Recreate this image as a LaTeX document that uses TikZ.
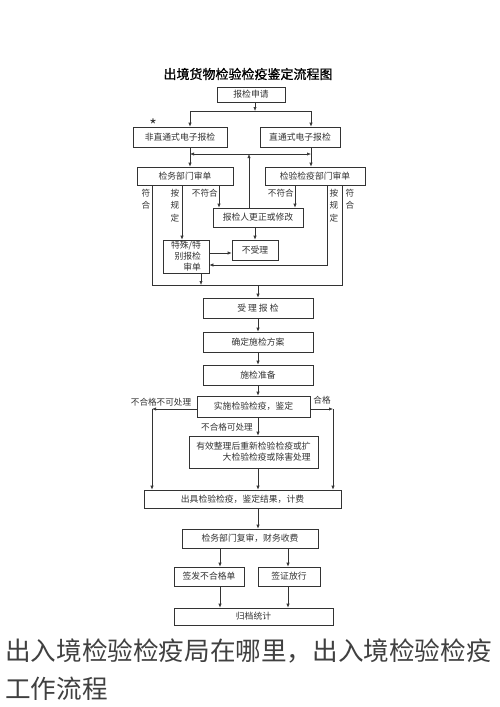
\documentclass[tikz,border=0pt]{standalone}
\usepackage{fontspec}
\setmainfont{Noto Sans CJK SC}
\newfontfamily\titlefont[FakeBold=1]{Noto Sans CJK SC}
\usetikzlibrary{arrows.meta}

\begin{document}
\begin{tikzpicture}[x=1pt,y=-1pt,line width=0.6pt,color=black!80,
	box/.style={draw, fill=white, inner sep=0pt, font=\fontsize{8.8}{11}\selectfont},
	lbl/.style={inner sep=0pt, align=center, font=\fontsize{8.6}{12.4}\selectfont},
	arr/.style={-{Latex[length=4pt,width=3.2pt]}}]
	\fill[white] (0,0) rectangle (500,707);
	\useasboundingbox (0,0) rectangle (500,707);
	\node[text=black] (title) at (248,74) {\titlefont\fontsize{13}{15}\selectfont 出境货物检验检疫鉴定流程图};
	\foreach
	\nm/\cx/\cy/\w/\h/\txt
	in
	{
		apply/251/94.5/68/15/报检申请,
		nondirect/180/137/94/20/非直通式电子报检,
		direct/300/137/80/20/直通式电子报检,
		deptL/185/176/96/18/检务部门审单,
		deptR/315/176/100/18/检验检疫部门审单,
		amend/258/217.5/90/19/报检人更正或修改,
		reject/255/250/46/20/不受理,
		accept/258/308/110/20/受 理 报 检,
		plan/258/342/110/20/确定施检方案,
		prep/258/375/110/20/施检准备,
		inspect/253.5/406.5/113/21/实施检验检疫，鉴定,
		result/242.5/499/197/18/出具检验检疫，鉴定结果，计费,
		review/250/538.5/136/19/检务部门复审，财务收费,
		unq/209/576.5/70/19/签发不合格单,
		release/289/576.5/62/19/签证放行,
		archive/253.5/616.5/159/17/归档统计
	}
	{
		\node[box, minimum width=\w, minimum height=\h] (\nm) at (\cx,\cy) {\txt};
	}
	\node[box, minimum width=46, minimum height=33, align=right] (special) at (186,256.5) {特殊/特\\别报检\\审单};
	\node[box, minimum width=129, minimum height=32, align=right] (treat) at (253.5,452) {有效整理后重新检验检疫或扩\\大检验检疫或除害处理};
	\node[inner sep=0pt, font=\fontsize{16}{16}\selectfont] (star) at (153,125) {*};
	\node[lbl] (okL) at (146,199) {符\\合};
	\node[lbl] (ruleL) at (175,205.5) {按\\规\\定};
	\node[lbl, anchor=east] (failL) at (218,193) {不符合};
	\node[lbl, anchor=east] (failR) at (294,193) {不符合};
	\node[lbl] (ruleR) at (334,205.5) {按\\规\\定};
	\node[lbl] (okR) at (350,199) {符\\合};
	\node[lbl] (nofix) at (161,402) {不合格不可处理};
	\node[lbl] (pass) at (322,400) {合格};
	\node[lbl] (fix) at (227,427) {不合格可处理};
	\coordinate (split) at (255,111);
	\coordinate (joinL) at (190,111);
	\coordinate (joinR) at (311,111);
	\coordinate (back) at (249,154);
	\coordinate (okLx) at (152,285);
	\coordinate (okRx) at (342,285);
	\coordinate (merge) at (258,285);
	\coordinate (ruleLx) at (182,0);
	\coordinate (failLx) at (219,0);
	\coordinate (failRx) at (295,0);
	\coordinate (turn) at (327,265);
	\coordinate (gate) at (0,253);
	\coordinate (rejx) at (255,0);
	\coordinate (spx) at (201,0);
	\coordinate (failcorner) at (152,409);
	\coordinate (passcorner) at (333,409);
	\coordinate (leftx) at (220,0);
	\coordinate (rightx) at (288,0);
	\draw[arr] (split |- apply.south) -- (split);
	\draw (joinL) -- (joinR);
	\draw[arr] (joinL) -- (joinL |- nondirect.north);
	\draw[arr] (joinR) -- (joinR |- direct.north);
	\draw[arr] (joinL |- nondirect.south) -- (joinL |- deptL.north);
	\draw[arr] (joinR |- direct.south) -- (joinR |- deptR.north);
	\draw[arr] (back |- amend.north) -- (back);
	\draw[arr] (back) -- (joinL |- back);
	\draw[arr] (back) -- (joinR |- back);
	\draw (okLx |- deptL.south) -- (okLx) -- (okRx) -- (okRx |- deptR.south);
	\draw[arr] (ruleLx |- deptL.south) -- (ruleLx |- special.north);
	\draw[arr] (failLx |- deptL.south) -- (failLx |- amend.north);
	\draw[arr] (failRx |- deptR.south) -- (failRx |- amend.north);
	\draw[arr] (turn |- deptR.south) -- (turn) -- (special.east |- turn);
	\draw[arr] (special.east |- gate) -- (reject.west |- gate);
	\draw[arr] (rejx |- amend.south) -- (rejx |- reject.north);
	\draw[arr] (spx |- special.south) -- (spx |- merge);
	\draw[arr] (merge) -- (merge |- accept.north);
	\draw[arr] (accept) -- (plan);
	\draw[arr] (plan) -- (prep);
	\draw[arr] (prep.south) -- (merge |- inspect.north);
	\draw[arr] (inspect.west |- failcorner) -- (failcorner);
	\draw[arr] (failcorner) -- (failcorner |- result.north);
	\draw[arr] (inspect.east |- passcorner) -- (passcorner);
	\draw[arr] (passcorner) -- (passcorner |- result.north);
	\draw[arr] (merge |- inspect.south) -- (merge |- treat.north);
	\draw[arr] (merge |- treat.south) -- (merge |- result.north);
	\draw[arr] (merge |- result.south) -- (merge |- review.north);
	\draw[arr] (leftx |- review.south) -- (leftx |- unq.north);
	\draw[arr] (rightx |- review.south) -- (rightx |- release.north);
	\draw[arr] (leftx |- unq.south) -- (leftx |- archive.north);
	\draw[arr] (rightx |- release.south) -- (rightx |- archive.north);
	\node[anchor=west, inner sep=0pt, text=black!75, font=\fontsize{25.6}{30}\selectfont] (cap1) at (5,651) {出入境检验检疫局在哪里，出入境检验检疫};
	\node[anchor=west, inner sep=0pt, text=black!75, font=\fontsize{25.6}{30}\selectfont] (cap2) at (5,689) {工作流程};
\end{tikzpicture}
\end{document}
